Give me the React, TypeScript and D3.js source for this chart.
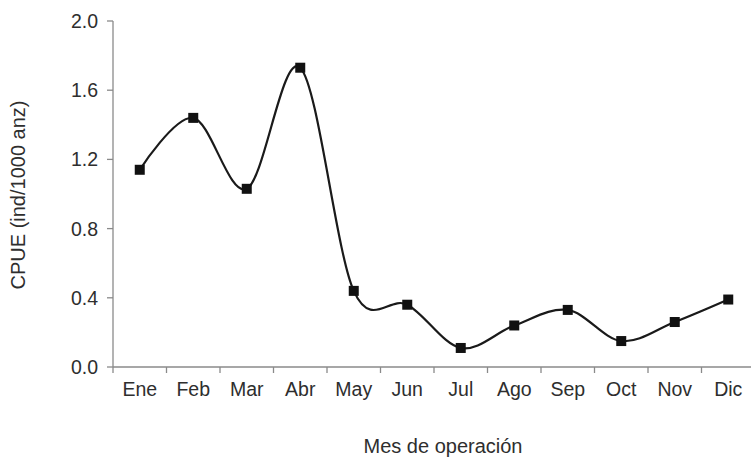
import React from "react";
import * as d3 from "d3";

const months = ["Ene", "Feb", "Mar", "Abr", "May", "Jun", "Jul", "Ago", "Sep", "Oct", "Nov", "Dic"];
const cpue = [1.14, 1.44, 1.03, 1.73, 0.44, 0.36, 0.11, 0.24, 0.33, 0.15, 0.26, 0.39];
const yTicks = [0, 0.4, 0.8, 1.2, 1.6, 2.0];

export default function App() {
  const W = 751, H = 460;
  const x0 = 113, x1 = 755, yTop = 21, yBot = 367;
  const x = d3.scaleBand<string>().domain(months).range([x0, x1]);
  const y = d3.scaleLinear().domain([0, 2]).range([yBot, yTop]);
  const pts: [number, number][] = months.map((m, i) => [x(m)! + x.bandwidth() / 2, y(cpue[i])]);
  const line = d3.line().curve(d3.curveCardinal.tension(0))(pts) || "";
  const axisColor = "#8a8a8a";
  const textColor = "#2e2e2e";
  const font = "'Liberation Sans', Arial, sans-serif";
  const bounds = months.map((m) => x(m)!).concat([x1]);
  return (
    <svg width={W} height={H} style={{ position: "absolute", left: 0, top: 0 }} fontFamily={font}>
      <rect width={W} height={H} fill="#fff" />
      {/* y axis */}
      <line x1={x0} x2={x0} y1={yTop} y2={yBot} stroke={axisColor} strokeWidth={1.3} />
      {yTicks.map((t) => (
        <g key={t}>
          <line x1={x0 - 6} x2={x0} y1={y(t)} y2={y(t)} stroke={axisColor} strokeWidth={1.3} />
          <text x={x0 - 15} y={y(t)} dy="0.36em" textAnchor="end" fontSize={19.5} fill={textColor}>
            {t.toFixed(1)}
          </text>
        </g>
      ))}
      {/* x axis */}
      <line x1={x0} x2={x1} y1={yBot} y2={yBot} stroke={axisColor} strokeWidth={1.3} />
      {bounds.map((b, i) => (
        <line key={i} x1={b} x2={b} y1={yBot} y2={yBot + 6} stroke={axisColor} strokeWidth={1.3} />
      ))}
      {months.map((m) => (
        <text key={m} x={x(m)! + x.bandwidth() / 2} y={yBot + 29} textAnchor="middle" fontSize={19.5} fill={textColor}>
          {m}
        </text>
      ))}
      <text x={443} y={453} textAnchor="middle" fontSize={20} fill={textColor}>Mes de operación</text>
      <text transform={`translate(25,195) rotate(-90)`} textAnchor="middle" fontSize={20} fill={textColor}>
        CPUE (ind/1000 anz)
      </text>
      <path d={line} fill="none" stroke="#1a1a1a" strokeWidth={2.2} />
      {pts.map((p, i) => (
        <rect key={i} x={p[0] - 5} y={p[1] - 5} width={10} height={10} fill="#111" />
      ))}
    </svg>
  );
}
